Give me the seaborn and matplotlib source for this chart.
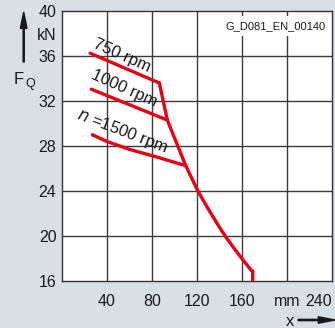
import matplotlib
matplotlib.use("Agg")
import matplotlib.pyplot as plt
import seaborn as sns
import pandas as pd

sns.set_theme(style="white")
plt.rcParams['font.family'] = ['Liberation Sans', 'DejaVu Sans']

# data (x in mm, F_Q in kN)
x_750 = [25.0, 86.5]
y_750 = [36.25, 33.6]
x_1000 = [26.0, 93.6]
y_1000 = [33.05, 30.3]
x_1500 = [27.0, 40.0, 60.0, 85.0, 110.0]
y_1500 = [29.0, 28.4, 27.7, 27.0, 26.25]
x_env = [86.5, 93.6, 110.0, 115.0, 120.5, 126.5, 133.0, 139.5, 146.0, 153.0, 161.0, 168.6, 169.5, 169.5]
y_env = [33.6, 30.3, 26.25, 25.2, 24.05, 23.0, 21.9, 20.85, 19.85, 18.9, 17.85, 16.9, 16.9, 16.0]

x_ticks = [40, 80, 120, 160, 200, 240]
x_ticklabels = ["40", "80", "120", "160", "mm", "240"]
y_ticks = [16, 20, 24, 28, 32, 36, 38, 40]
y_ticklabels = ["16", "20", "24", "28", "32", "36", "kN", "40"]
x_grid = [40, 80, 120, 160, 200]
y_grid = [20, 24, 28, 32, 36]

bg = "#d8dfe5"
red = "#e30018"

fig = plt.figure(figsize=(3.35, 3.28), dpi=100, facecolor=bg)
ax = fig.add_axes([62/335, 47/328, 270/335, 270/328])
ax.set_facecolor("white")

for gx in x_grid:
    ax.axvline(gx, color="#3c3c3c", lw=1.0, zorder=1)
for gy in y_grid:
    ax.axhline(gy, color="#3c3c3c", lw=1.0, zorder=1)

curves = [(x_750, y_750), (x_1000, y_1000), (x_1500, y_1500), (x_env, y_env)]
for xs, ys in curves:
    df = pd.DataFrame({"x": xs, "y": ys})
    sns.lineplot(data=df, x="x", y="y", sort=False, color=red, lw=2.4,
                 ax=ax, zorder=3, estimator=None)

ax.set_xlim(0, 240)
ax.set_ylim(16, 40)
ax.set_xticks(x_ticks)
ax.set_xticklabels(x_ticklabels)
ax.set_yticks(y_ticks)
ax.set_yticklabels(y_ticklabels)
ax.tick_params(axis="both", length=0, labelsize=11.5, colors="#1a1a1a")
ax.tick_params(axis="x", pad=9)
ax.tick_params(axis="y", pad=4)
ax.get_xticklabels()[-1].set_horizontalalignment("right")
ax.set_xlabel("")
ax.set_ylabel("")
for s in ax.spines.values():
    s.set_color("#333333")
    s.set_linewidth(1.0)

ax.text(26.7, 36.8, "750 rpm", rotation=-24, fontsize=12, color="#1a1a1a",
        ha="left", va="baseline", rotation_mode="anchor", zorder=4)
ax.text(24.9, 34.0, "1000 rpm", rotation=-24, fontsize=12, color="#1a1a1a",
        ha="left", va="baseline", rotation_mode="anchor", zorder=4)
ax.text(12.4, 30.5, "$\\it{n}$ =1500 rpm", rotation=-21, fontsize=12, color="#1a1a1a",
        ha="left", va="baseline", rotation_mode="anchor", zorder=4)

ax.text(0.975, 0.945, "G_D081_EN_00140", transform=ax.transAxes, fontsize=8,
        color="#1a1a1a", ha="right", va="center", zorder=5,
        bbox=dict(fc="white", ec="none", pad=3.5))

# axis annotations
fig.text(14/335, 1 - 80/328, "F", fontsize=12, color="#1a1a1a", ha="left", va="center")
fig.text(25/335, 1 - 84/328, "Q", fontsize=9, color="#1a1a1a", ha="left", va="center")
fig.patches.append(matplotlib.patches.FancyArrow(
    23.7/335, 1 - 62/328, 0, 50/328, width=0.0035, head_width=0.02,
    head_length=0.05, length_includes_head=True, color="#1a1a1a",
    transform=fig.transFigure, figure=fig))
fig.text(290/335, 1 - 321/328, "x", fontsize=12, color="#1a1a1a", ha="center", va="center")
fig.patches.append(matplotlib.patches.FancyArrow(
    298/335, 1 - 320/328, 37/335, 0, width=0.004, head_width=0.02,
    head_length=0.05, length_includes_head=True, color="#1a1a1a",
    transform=fig.transFigure, figure=fig))

fig.savefig("out.png", dpi=100, facecolor=bg)
